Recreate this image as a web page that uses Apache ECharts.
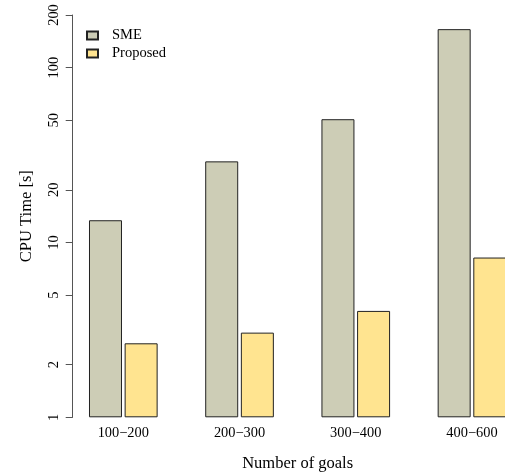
<!DOCTYPE html>
<html>
<head>
<meta charset="utf-8">
<script src="https://cdn.jsdelivr.net/npm/echarts@6/dist/echarts.min.js"></script>
<style>
  html, body { margin: 0; padding: 0; background: #fff; }
  #chart { width: 505px; height: 474px; }
</style>
</head>
<body>
<div id="chart"></div>
<script>
// Goal-count buckets on the x axis
const categories = ['100\u2212200', '200\u2212300', '300\u2212400', '400\u2212600'];
// CPU time in seconds per method
const smeTimes = [13.4, 29.1, 50.7, 166];
const proposedTimes = [2.65, 3.05, 4.06, 8.2];
// Log-axis tick positions
const yTicks = [1, 2, 5, 10, 20, 50, 100, 200];

const serif = 'Liberation Serif';
const chart = echarts.init(document.getElementById('chart'));

chart.setOption({
  animation: false,
  textStyle: { fontFamily: serif },
  grid: {
    left: 65.2, right: -25.1, top: 15, bottom: 56.7,
    containLabel: false, outerBoundsMode: 'none'
  },
  legend: {
    orient: 'vertical',
    left: 81,
    top: 23,
    icon: 'rect',
    itemWidth: 11,
    itemHeight: 8,
    itemGap: 3,
    textStyle: { fontFamily: serif, fontSize: 14.5, color: '#000', padding: [0, 0, 0, 9] },
    data: ['SME', 'Proposed']
  },
  xAxis: {
    type: 'category',
    data: categories,
    axisLine: { show: false },
    axisTick: { show: false },
    axisLabel: { fontFamily: serif, fontSize: 14.4, color: '#000', margin: 9 },
    name: 'Number of goals',
    nameLocation: 'middle',
    nameGap: 38,
    nameTextStyle: { fontFamily: serif, fontSize: 16.5, color: '#000' }
  },
  yAxis: {
    type: 'log',
    logBase: 10,
    min: 1,
    max: 200,
    offset: -7.5,
    splitLine: { show: false },
    axisLine: { show: true, lineStyle: { color: '#555', width: 1 } },
    axisTick: { show: true, length: 7, lineStyle: { color: '#555' }, customValues: yTicks },
    axisLabel: {
      fontFamily: serif, fontSize: 14.4, color: '#000', rotate: 90, margin: 11,
      customValues: yTicks
    },
    name: 'CPU Time [s]',
    nameLocation: 'middle',
    nameRotate: 90,
    nameGap: 38,
    nameTextStyle: { fontFamily: serif, fontSize: 16.5, color: '#000' }
  },
  series: [
    {
      name: 'SME',
      type: 'bar',
      data: smeTimes,
      barWidth: 33,
      barGap: '8%',
      itemStyle: { color: '#CDCDB6', borderColor: '#222', borderWidth: 1 }
    },
    {
      name: 'Proposed',
      type: 'bar',
      data: proposedTimes,
      barWidth: 33,
      itemStyle: { color: '#FFE490', borderColor: '#222', borderWidth: 1 }
    }
  ]
});
</script>
</body>
</html>
